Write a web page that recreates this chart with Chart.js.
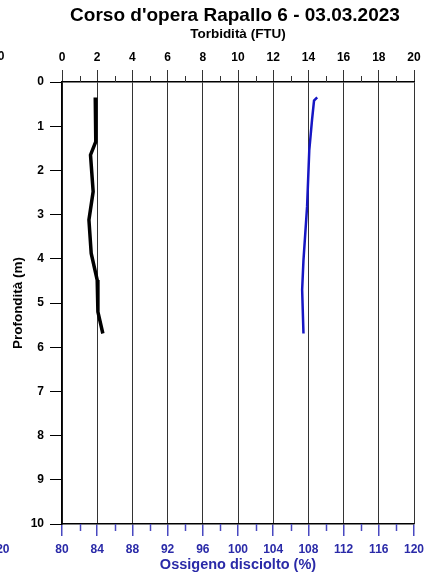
<!DOCTYPE html>
<html>
<head>
<meta charset="utf-8">
<script src="https://cdn.jsdelivr.net/npm/chart.js@4/dist/chart.umd.min.js"></script>
<style>
  body { margin: 0; background: #fff; }
  canvas { display: block; }
</style>
</head>
<body>
<canvas id="profile" width="435" height="578"></canvas>
<script>
// depth profile values
const turbDepth = [0.35, 1.35, 1.65, 2.48, 3.12, 3.88, 4.48, 5.2, 5.69];
const turbValues = [1.89, 1.92, 1.62, 1.77, 1.53, 1.66, 2.0, 2.04, 2.32];
const oxyDepth = [0.35, 0.42, 0.86, 1.54, 2.82, 4.03, 4.7, 5.69];
const oxyValues = [109.0, 108.64, 108.41, 108.1, 107.85, 107.44, 107.29, 107.44];

const turbTicks = [0, 20, 2];     // min, max, step
const oxyTicks = [80, 120, 4];
const depthTicks = [0, 10, 1];

const FONT = 'Arial, "Liberation Sans", sans-serif';
const BLUE_TEXT = '#2a2aa8';
const BLUE_LINE = '#1616c4';

const toPoints = (xs, ys) => xs.map((v, i) => ({ x: v, y: ys[i] }));

// title, minor ticks and the cut-off labels of the neighbouring plot
const extras = {
  id: 'extras',
  afterDraw(chart) {
    const ctx = chart.ctx;
    const area = chart.chartArea;
    const xTop = chart.scales.x;
    const xBot = chart.scales.x2;
    ctx.save();
    ctx.lineWidth = 1;
    ctx.strokeStyle = '#333';
    for (let v = turbTicks[0] + 1; v < turbTicks[1]; v += 2) {
      const px = Math.round(xTop.getPixelForValue(v)) + 0.5;
      ctx.beginPath();
      ctx.moveTo(px, area.top);
      ctx.lineTo(px, area.top - 6);
      ctx.stroke();
    }
    ctx.strokeStyle = '#4848c0';
    ctx.lineWidth = 1.5;
    for (let v = oxyTicks[0] + 2; v < oxyTicks[1]; v += 4) {
      const px = Math.round(xBot.getPixelForValue(v)) + 0.5;
      ctx.beginPath();
      ctx.moveTo(px, area.bottom);
      ctx.lineTo(px, area.bottom + 7);
      ctx.stroke();
    }

    ctx.fillStyle = '#000';
    ctx.textAlign = 'center';
    ctx.textBaseline = 'alphabetic';
    ctx.font = 'bold 19px ' + FONT;
    ctx.fillText("Corso d'opera Rapallo 6 - 03.03.2023", 235, 21);

    ctx.textAlign = 'right';
    ctx.textBaseline = 'middle';
    ctx.font = 'bold 12px ' + FONT;
    ctx.fillText('20', 4.5, 57);
    ctx.fillStyle = BLUE_TEXT;
    ctx.fillText('120', 9.5, 549.5);
    ctx.restore();
  }
};

new Chart(document.getElementById('profile'), {
  type: 'scatter',
  data: {
    datasets: [{
      label: 'Torbidità',
      data: toPoints(turbValues, turbDepth),
      xAxisID: 'x',
      yAxisID: 'y',
      showLine: true,
      borderColor: '#000',
      borderWidth: 3.5,
      pointRadius: 0,
      tension: 0
    }, {
      label: 'Ossigeno disciolto',
      data: toPoints(oxyValues, oxyDepth),
      xAxisID: 'x2',
      yAxisID: 'y',
      showLine: true,
      borderColor: BLUE_LINE,
      borderWidth: 2.5,
      pointRadius: 0,
      tension: 0
    }]
  },
  options: {
    responsive: false,
    animation: false,
    layout: { padding: { top: 0, right: 21, bottom: 0, left: 0 } },
    plugins: {
      legend: { display: false },
      tooltip: { enabled: false }
    },
    scales: {
      x: {
        type: 'linear',
        position: 'top',
        min: turbTicks[0],
        max: turbTicks[1],
        ticks: { stepSize: turbTicks[2], color: '#000', padding: 5, font: { family: FONT, size: 12, weight: 'bold' } },
        grid: { color: '#333', lineWidth: 1, tickLength: 12 },
        border: { color: '#000', width: 1.5 },
        title: { display: true, text: 'Torbidità (FTU)', color: '#000', padding: { top: 26, bottom: 0 }, font: { family: FONT, size: 13.5, weight: 'bold' } },
        afterFit: s => { s.height = 82; }
      },
      x2: {
        type: 'linear',
        position: 'bottom',
        min: oxyTicks[0],
        max: oxyTicks[1],
        ticks: { stepSize: oxyTicks[2], color: BLUE_TEXT, padding: 6, font: { family: FONT, size: 12, weight: 'bold' } },
        grid: { drawOnChartArea: false, color: '#4848c0', lineWidth: 1.5, tickLength: 12 },
        border: { color: '#000', width: 1.5 },
        title: { display: true, text: 'Ossigeno disciolto (%)', color: BLUE_TEXT, padding: { top: 0, bottom: 4 }, font: { family: FONT, size: 14.5, weight: 'bold' } },
        afterFit: s => { s.height = 54; }
      },
      y: {
        type: 'linear',
        position: 'left',
        reverse: true,
        min: depthTicks[0],
        max: depthTicks[1],
        ticks: { stepSize: depthTicks[2], color: '#000', padding: 6, font: { family: FONT, size: 12, weight: 'bold' } },
        grid: { drawOnChartArea: false, color: '#000', lineWidth: 1, tickLength: 12 },
        border: { color: '#000', width: 1.5 },
        title: { display: true, text: 'Profondità (m)', color: '#000', padding: { top: 10, bottom: 0 }, font: { family: FONT, size: 13.5, weight: 'bold' } },
        afterFit: s => { s.width = 62; }
      }
    }
  },
  plugins: [extras]
});
</script>
</body>
</html>
